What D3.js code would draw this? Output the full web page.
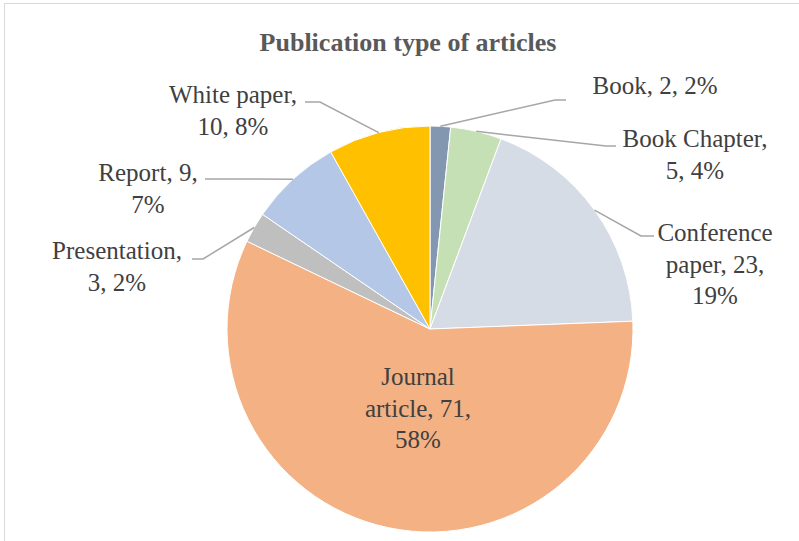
<!DOCTYPE html>
<html><head><meta charset="utf-8">
<script src="https://cdn.jsdelivr.net/npm/d3@7"></script>
<style>body{margin:0;background:#fff}svg{display:block}</style>
</head><body>
<script>
const categories = ["Book","Book Chapter","Conference paper","Journal article","Presentation","Report","White paper"];
const values = [2,5,23,71,3,9,10];
const percents = ["2%","4%","19%","58%","2%","7%","8%"];
const colors = ["#8497B0","#C5E0B4","#D6DCE5","#F4B183","#BFBFBF","#B4C7E7","#FFC000"];
// label text lines
const labelLines = [
  ["Book, 2, 2%"],
  ["Book Chapter,","5, 4%"],
  ["Conference","paper, 23,","19%"],
  ["Journal","article, 71,","58%"],
  ["Presentation,","3, 2%"],
  ["Report, 9,","7%"],
  ["White paper,","10, 8%"]
];
// label layout: center x, first baseline y, leader elbow end (x,y) and tail end x
const labelPos = [
  {cx:655, y:94,  ex:555, ey:100, tx:566},
  {cx:695, y:147, ex:606, ey:146, tx:616},
  {cx:715, y:241, ex:641, ey:236, tx:654},
  {cx:418, y:385},
  {cx:117, y:259, ex:203, ey:259, tx:192},
  {cx:148, y:181, ex:205, ey:179, tx:205},
  {cx:233, y:103, ex:320, ey:102, tx:305}
];
const FONT='"Liberation Serif","Times New Roman",serif';

const W=799,H=541;
const svg=d3.select("body").append("svg").attr("width",W).attr("height",H);
svg.append("rect").attr("x",4.5).attr("y",3.5).attr("width",W+10).attr("height",H+10)
  .attr("fill","#fff").attr("stroke","#D9D9D9").attr("stroke-width",1);

svg.append("text").attr("x",408).attr("y",51).attr("text-anchor","middle")
  .style("font-family",FONT).attr("font-weight","bold").attr("font-size",26)
  .attr("fill","#595959").text("Publication type of articles");

const cx=430, cy=329, r=203;
const g=svg.append("g").attr("transform",`translate(${cx},${cy})`);
const pie=d3.pie().sort(null).value(d=>d);
const arcs=pie(values);
const arc=d3.arc().innerRadius(0).outerRadius(r);
g.selectAll("path").data(arcs).join("path")
  .attr("d",arc).attr("fill",(d,i)=>colors[i]).attr("stroke","#fff").attr("stroke-width",1);

// leader lines
arcs.forEach((a,i)=>{
  const p=labelPos[i];
  if(p.ex===undefined) return;
  const m=(a.startAngle+a.endAngle)/2;
  const sx=cx+r*Math.sin(m), sy=cy-r*Math.cos(m);
  svg.append("polyline").attr("points",`${sx},${sy} ${p.ex},${p.ey} ${p.tx},${p.ey}`)
    .attr("fill","none").attr("stroke","#A6A6A6").attr("stroke-width",1.5);
});

labelLines.forEach((lines,i)=>{
  const p=labelPos[i];
  const t=svg.append("text").style("font-family",FONT).attr("font-size",25)
    .attr("fill","#404040").attr("text-anchor","middle");
  lines.forEach((l,j)=>{
    t.append("tspan").attr("x",p.cx).attr("y",p.y+j*31.5).text(l);
  });
});
</script>
</body></html>
